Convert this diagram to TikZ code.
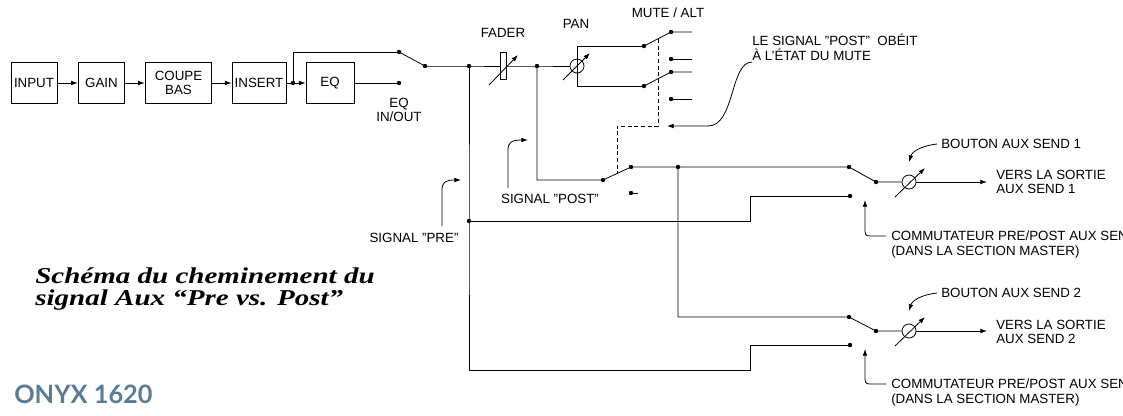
\documentclass[tikz,border=0pt]{standalone}
\usepackage{fontspec}
\setmainfont{Liberation Sans}
\newfontfamily\titlefont{Liberation Serif}
\newfontfamily\onyxfont{Lato}
\usetikzlibrary{arrows.meta}
\definecolor{onyx}{HTML}{5B7C96}
\newcommand{\qq}{\symbol{34}}
\begin{document}
\begin{tikzpicture}[x=0.75pt,y=-0.75pt,
  lbl/.style={font=\fontsize{10}{11}\selectfont, inner sep=0pt, align=left},
  box/.style={draw, line width=0.6pt, minimum height=31pt, inner sep=1pt, align=center, font=\fontsize{10}{11}\selectfont},
  dot/.style={circle, fill, inner sep=0pt, minimum size=3.3pt},
  wire/.style={line width=0.6pt},
  arr/.style={wire, -{Latex[length=5pt,width=3.5pt]}},
  pot/.style={circle, draw, line width=0.6pt, minimum size=10.5pt, inner sep=0pt},
  ttl/.style={anchor=west, font=\titlefont\fontsize{17}{19}\selectfont\bfseries\itshape, inner sep=0pt, xscale=1.28}]
\useasboundingbox (0,0) rectangle (1123,415);
% boxes
\node[box, minimum width=34.5pt] (in) at (34,83) {INPUT};
\node[box, minimum width=35pt] (gain) at (101.5,83) {GAIN};
\node[box, minimum width=50pt] (cb) at (178.5,83) {COUPE\\BAS};
\node[box, minimum width=40.5pt] (ins) at (259,83) {INSERT};
\node[box, minimum width=36pt] (eq) at (330,83) {EQ};
\draw[arr] (in) -- (gain);
\draw[arr] (gain) -- (cb);
\draw[arr] (cb) -- (ins);
\node[dot] (j0) at (293,83) {};
\draw[wire] (ins) -- (j0.center);
\draw[arr] (j0.center) -- (eq);
% EQ switch
\node[dot] (eqa) at (399,52) {};
\node[dot] (eqb) at (399,83) {};
\node[dot] (eqp) at (425,66) {};
\draw[wire] (j0.center) |- (eqa.center);
\draw[wire] (eq) -- (eqb.center);
\draw[wire] (eqa.center) -- (eqp.center);
\node[lbl, align=center] at (399,110) {EQ\\IN/OUT};
% main line
\node[dot] (jpre) at (469,66) {};
\node[draw, line width=0.6pt, minimum width=4.5pt, minimum height=20pt, inner sep=0pt] (fad) at (503,66) {};
\node[dot] (jpost) at (537,66) {};
\node[pot] (pan) at (577,66) {};
\draw[wire] (eqp.center) -- (jpre.center) -- (fad) -- (jpost.center) -- (pan);
\coordinate (fa1) at (489,85); \coordinate (fa2) at (518,55);
\draw[arr] (fa1) -- (fa2);
\node[lbl] at (503,33) {FADER};
\coordinate (pa1) at (563,80); \coordinate (pa2) at (590,53);
\draw[arr] (pa1) -- (pa2);
\node[lbl] at (576,24) {PAN};
\node[lbl] at (668,13) {MUTE / ALT};
% pan outputs & mute switches
\node[dot] (m1p) at (644,46) {};
\node[dot] (m2p) at (644,86) {};
\node[dot] (m1a) at (671,32) {};
\node[dot] (m1b) at (671,59) {};
\node[dot] (m2a) at (671,72) {};
\node[dot] (m2b) at (671,99) {};
\draw[wire] (m1p.center) -| (577,86) -- (m2p.center);
\draw[wire] (m1p.center) -- (m1a.center) -- ++(21,0);
\draw[wire] (m2p.center) -- (m2a.center) -- ++(21,0);
\draw[wire] (m1b.center) -- ++(21,0);
\draw[wire] (m2b.center) -- ++(21,0);
% post line and post switch
\node[dot] (ps) at (603,180) {};
\node[dot] (pa) at (631,167) {};
\node[dot] (pb) at (631,193) {};
\draw[wire] (jpost.center) |- (ps.center) -- (pa.center);
\draw[wire] (pb.center) -- ++(7,0);
% dashed mute link
\draw[densely dashed, line width=0.5pt] (658,39) -- (658,126) -- (617,126) -- (617,174);
% LE SIGNAL POST note
\node[lbl, anchor=west] at (752,40) {LE SIGNAL \qq POST\qq\ \ OBÉIT};
\node[lbl, anchor=west] at (752,55) {À L'ÉTAT DU MUTE};
\coordinate (ls) at (752,62); \coordinate (lt) at (667,126);
\draw[arr] (ls) .. controls (730,62) and (735,126) .. (708,126) -- (lt);
% send 1
\node[dot] (jn) at (678,167) {};
\node[dot] (s1a) at (849,167) {};
\node[dot] (s1b) at (850,196) {};
\node[dot] (s1p) at (876,182) {};
\node[pot] (k1) at (909,182) {};
\coordinate (o1) at (987,182);
\draw[wire] (pa.center) -- (jn.center) -- (s1a.center) -- (s1p.center) -- (k1);
\draw[arr] (k1) -- (o1);
\draw[arr] (895,197) -- (925,168);
\draw[arr] (937,144) .. controls (920,146) and (912,152) .. (909,162);
\node[lbl, anchor=west] at (941,144) {BOUTON AUX SEND 1};
\node[lbl, anchor=west] at (996,182) {VERS LA SORTIE\\[-1pt]AUX SEND 1};
\draw[arr] (886,236) -- (870,236) .. controls (865,236) and (865,234) .. (865,228) -- (865,200);
\node[lbl, anchor=west] at (891,236) {COMMUTATEUR PRE/POST AUX SEND};
\node[lbl, anchor=west] at (891,252) {(DANS LA SECTION MASTER)};
% send 2
\node[dot] (s2a) at (849,317) {};
\node[dot] (s2b) at (850,345) {};
\node[dot] (s2p) at (876,331) {};
\node[pot] (k2) at (909,331) {};
\coordinate (o2) at (987,331);
\draw[wire] (jn.center) |- (s2a.center) -- (s2p.center) -- (k2);
\draw[arr] (k2) -- (o2);
\draw[arr] (895,346) -- (925,317);
\draw[arr] (937,293) .. controls (920,295) and (912,301) .. (909,311);
\node[lbl, anchor=west] at (941,293) {BOUTON AUX SEND 2};
\node[lbl, anchor=west] at (996,332) {VERS LA SORTIE\\[-1pt]AUX SEND 2};
\draw[arr] (886,384) -- (870,384) .. controls (865,384) and (865,382) .. (865,376) -- (865,349);
\node[lbl, anchor=west] at (891,384) {COMMUTATEUR PRE/POST AUX SEND};
\node[lbl, anchor=west] at (891,400) {(DANS LA SECTION MASTER)};
% pre line
\node[dot] (jp2) at (469,221) {};
\draw[wire] (jpre.center) -- (jp2.center) -- (469,370) -- (750,370) -- (750,345) -- (s2b.center);
\draw[wire] (jp2.center) -- (750,221) -- (750,196) -- (s1b.center);
% signal labels
\node[lbl] at (414,238) {SIGNAL \qq PRE\qq};
\draw[arr] (442,226) -- (442,190) .. controls (442,182) and (446,180) .. (461,180);
\node[lbl] at (550,199) {SIGNAL \qq POST\qq};
\draw[arr] (508,188) -- (508,150) .. controls (508,142) and (512,140) .. (528,140);
% title
\node[ttl] at (35,276) {Schéma du cheminement du};
\node[ttl] at (35,300) {signal Aux “Pre vs. Post”};
\node[anchor=west, font=\onyxfont\fontsize{19}{21}\selectfont\bfseries, text=onyx, inner sep=0pt] at (14,394) {ONYX 1620};
\end{tikzpicture}
\end{document}
